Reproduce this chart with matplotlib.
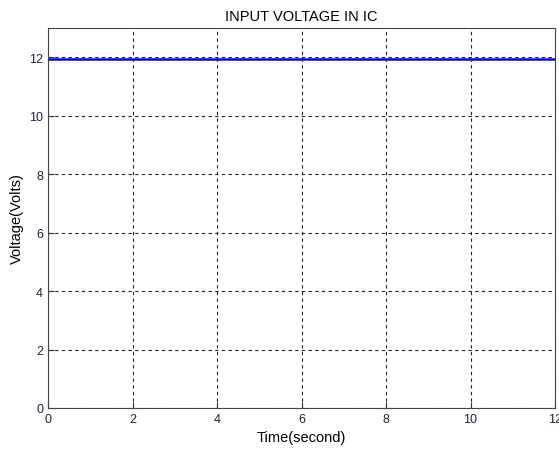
import matplotlib
matplotlib.use("Agg")
import matplotlib.pyplot as plt

time = [0, 12]
voltage = [11.95, 11.95]
xticks = [0, 2, 4, 6, 8, 10, 12]
yticks = [0, 2, 4, 6, 8, 10, 12]

plt.rcParams['font.family'] = ['Liberation Sans', 'DejaVu Sans']
fig = plt.figure(figsize=(5.59, 4.52), dpi=100)
ax = fig.add_axes([48/559, 43/452, (555-48)/559, (409-29)/452])
ax.plot(time, voltage, color='#0000ff', linewidth=1.8)
ax.set_xlim(0, 12)
ax.set_ylim(0, 13)
ax.set_xticks(xticks)
ax.set_yticks(yticks)
ax.grid(True, linestyle=(0, (3, 3)), color='#222222', linewidth=0.8)
ax.tick_params(direction='in', labelsize=9, length=4, colors='#333333', labelcolor='#202040')
for s in ax.spines.values():
    s.set_color('#444444')
ax.set_title('INPUT VOLTAGE IN IC', fontsize=10.5, pad=6)
ax.set_xlabel('Time(second)', fontsize=10.5, labelpad=4)
ax.set_ylabel('Voltage(Volts)', fontsize=10.5, labelpad=4)
fig.savefig('out.png', dpi=100)
